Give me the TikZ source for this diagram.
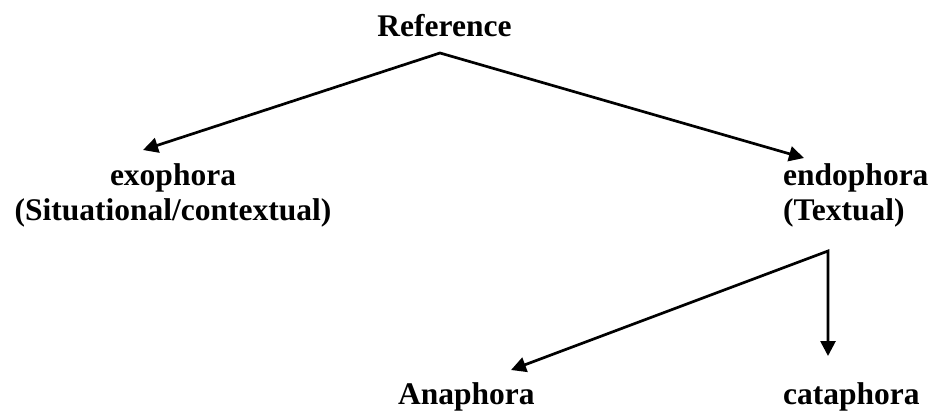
\documentclass[tikz,border=0pt]{standalone}
\usepackage{fontspec}
\setmainfont{Liberation Serif}
\usetikzlibrary{arrows.meta}
\tikzset{branchhead/.tip={Triangle[length=15pt,width=15pt]}}
\begin{document}
\begin{tikzpicture}[x=1pt,y=-1pt,
  term/.style={font=\bfseries\fontsize{31.5}{35}\selectfont, inner sep=0pt, text=black},
  link/.style={line width=2.7pt, line join=miter, draw=black}]
\useasboundingbox (0,0) rectangle (933,412);

% terms of the classification (two-line nodes: base is the last line)
\node[term, anchor=base] (ref) at (444.5,37) {Reference};
\node[term, anchor=base, align=center] (exo) at (173,220) {exophora\\(Situational/contextual)};
\node[term, anchor=base west, align=left] (endo) at (783,220) {endophora\\(Textual)};
\node[term, anchor=base west] (ana) at (398,404) {Anaphora};
\node[term, anchor=base west] (cata) at (783,404) {cataphora};

% branching points and arrow ends
\coordinate (split) at (440,53);
\coordinate (exoTip) at (143,150);
\coordinate (endoTip) at (804,158);
\coordinate (fork) at (828,251);
\coordinate (anaTip) at (511,370);
\coordinate (cataTip) at (828,356);

% branches
\draw[link, branchhead-branchhead] (exoTip) -- (split) -- (endoTip);
\draw[link, branchhead-branchhead] (anaTip) -- (fork) -- (cataTip);
\end{tikzpicture}
\end{document}
